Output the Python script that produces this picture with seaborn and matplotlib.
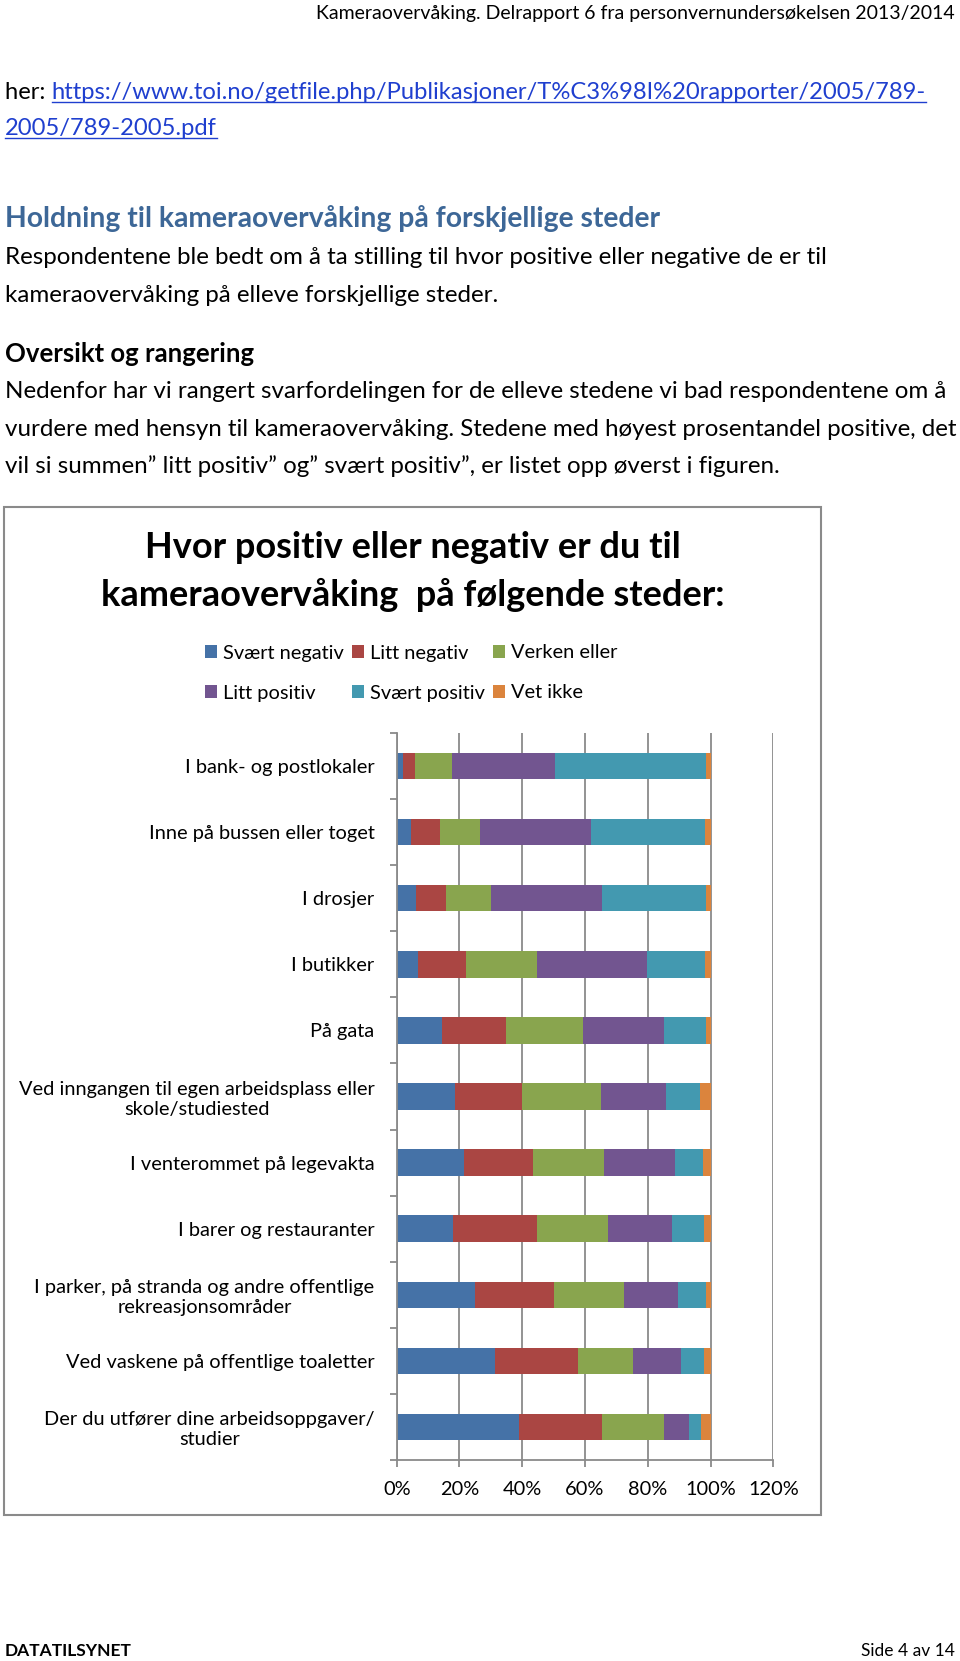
import numpy as np
import pandas as pd
import seaborn as sns
import matplotlib.pyplot as plt
from matplotlib.patches import Patch, Rectangle
from matplotlib.lines import Line2D

# data (percent of respondents)
places = ['I bank- og postlokaler', 'Inne på bussen eller toget', 'I drosjer', 'I butikker',
          'På gata', 'Ved inngangen til egen arbeidsplass eller\nskole/studiested',
          'I venterommet på legevakta', 'I barer og restauranter',
          'I parker, på stranda og andre offentlige\nrekreasjonsområder',
          'Ved vaskene på offentlige toaletter', 'Der du utfører dine arbeidsoppgaver/\nstudier']
svaert_negativ = [2.1, 4.6, 6.1, 6.9, 14.3, 18.6, 21.4, 18.0, 24.8, 31.3, 39.0]
litt_negativ = [3.7, 9.2, 9.6, 15.2, 20.4, 21.4, 21.9, 26.8, 25.3, 26.4, 26.4]
verken_eller = [11.7, 12.7, 14.2, 22.5, 24.5, 25.1, 22.7, 22.4, 22.2, 17.7, 19.6]
litt_positiv = [32.9, 35.4, 35.5, 35.2, 25.9, 20.7, 22.6, 20.5, 17.4, 15.2, 8.1]
svaert_positiv = [48.1, 36.3, 33.1, 18.4, 13.3, 10.8, 9.0, 10.2, 8.7, 7.4, 3.8]
vet_ikke = [1.5, 1.8, 1.5, 1.8, 1.6, 3.4, 2.4, 2.1, 1.6, 2.0, 3.1]

answers = ['Svært negativ', 'Litt negativ', 'Verken eller', 'Litt positiv', 'Svært positiv', 'Vet ikke']
colors = ['#4572A7', '#AA4643', '#89A54E', '#725590', '#4399B0', '#DB843D']
x_ticks = [0, 0.2, 0.4, 0.6, 0.8, 1.0, 1.2]
x_labels = ['0%', '20%', '40%', '60%', '80%', '100%', '120%']

df = pd.DataFrame({'sted': places, 'Svært negativ': svaert_negativ, 'Litt negativ': litt_negativ,
                   'Verken eller': verken_eller, 'Litt positiv': litt_positiv,
                   'Svært positiv': svaert_positiv, 'Vet ikke': vet_ikke})
cum = df[answers].div(df[answers].sum(axis=1), axis=0).cumsum(axis=1)
cum['sted'] = df['sted']

W, H = 960, 1661
plt.rcParams['font.family'] = ['Lato', 'DejaVu Sans']
fig = plt.figure(figsize=(W / 100, H / 100), dpi=100)


def fx(x):
  return x / W


def fy(y):
  return 1 - y / H


grey = '#8a8a8a'
chart_fs = 14.4

# chart frame
fig.patches.append(Rectangle((fx(4), fy(1515)), fx(817), (1515 - 507) / H, transform=fig.transFigure,
                             facecolor='none', edgecolor=grey, lw=1.5))

ax = fig.add_axes([fx(396.7), fy(1460), fx(773.4 - 396.7), (1460 - 733) / H])

# stacked bars: draw cumulative totals from the longest down
for col, c in reversed(list(zip(answers, colors))):
  sns.barplot(data=cum, x=col, y='sted', color=c, saturation=1, width=0.4, linewidth=0, orient='h', ax=ax)

ax.set_xlim(0, 1.2)
ax.set_ylim(len(places) - 0.5, -0.5)
ax.set_xticks(x_ticks)
ax.set_xticklabels(x_labels, fontsize=chart_fs)
ax.set_xlabel('')
ax.set_ylabel('')
ax.set_yticks(np.arange(-0.5, len(places), 1), minor=True)
ax.tick_params(axis='y', which='major', length=0, pad=16, labelsize=chart_fs)
ax.tick_params(axis='y', which='minor', length=5, color=grey, width=1.3)
ax.tick_params(axis='x', length=5, color=grey, width=1.3, pad=10)
for lbl in ax.get_yticklabels():
  lbl.set_multialignment('center')
ax.set_axisbelow(True)
ax.xaxis.grid(True, color=grey, lw=1.3)
ax.yaxis.grid(False)
for s in ['top', 'right']:
  ax.spines[s].set_visible(False)
for s in ['left', 'bottom']:
  ax.spines[s].set_color(grey)
  ax.spines[s].set_linewidth(1.3)

# title and legend
fig.text(fx(413), fy(548), 'Hvor positiv eller negativ er du til', ha='center', va='center',
         fontsize=26, fontweight='bold')
fig.text(fx(413), fy(595), 'kameraovervåking  på følgende steder:', ha='center', va='center',
         fontsize=26, fontweight='bold')
handles = [Patch(facecolor=c, label=a) for a, c in zip(answers, colors)]
order = [0, 3, 1, 4, 2, 5]
fig.legend([handles[i] for i in order], [answers[i] for i in order], loc='center',
           bbox_to_anchor=(fx(411), fy(673)), ncol=3, frameon=False, fontsize=chart_fs,
           handlelength=0.6, handleheight=0.6, handletextpad=0.3, columnspacing=0.4, labelspacing=1.15)

# surrounding page text
body = 17.4
fig.text(fx(955), fy(14), 'Kameraovervåking. Delrapport 6 fra personvernundersøkelsen 2013/2014',
         ha='right', va='center', fontsize=14)

r = fig.canvas.get_renderer()
link = '#1F3FCF'
t_her = fig.text(fx(5), fy(99), 'her: ', va='baseline', fontsize=17.1)
x_end = t_her.get_window_extent(renderer=r).x1 / W
t_url1 = fig.text(x_end, fy(99), 'https://www.toi.no/getfile.php/Publikasjoner/T%C3%98I%20rapporter/2005/789-',
                  va='baseline', fontsize=17.1, color=link)
t_url2 = fig.text(fx(5), fy(135), '2005/789-2005.pdf', va='baseline', fontsize=17.1, color=link)
for t, yb in [(t_url1, 99), (t_url2, 135)]:
  bb = t.get_window_extent(renderer=r)
  fig.lines.append(Line2D([bb.x0 / W, bb.x1 / W], [fy(yb + 3)] * 2, transform=fig.transFigure,
                          color=link, lw=1))

fig.text(fx(5), fy(219), 'Holdning til kameraovervåking på forskjellige steder', va='center',
         fontsize=20.3, fontweight='bold', color='#3D6797')
fig.text(fx(5), fy(257), 'Respondentene ble bedt om å ta stilling til hvor positive eller negative de er til',
         va='center', fontsize=body)
fig.text(fx(5), fy(295), 'kameraovervåking på elleve forskjellige steder.', va='center', fontsize=body)
fig.text(fx(5), fy(354), 'Oversikt og rangering', va='center', fontsize=18.5, fontweight='bold')
fig.text(fx(5), fy(392), 'Nedenfor har vi rangert svarfordelingen for de elleve stedene vi bad respondentene om å',
         va='center', fontsize=body)
fig.text(fx(5), fy(429), 'vurdere med hensyn til kameraovervåking. Stedene med høyest prosentandel positive, det',
         va='center', fontsize=body)
fig.text(fx(5), fy(466), 'vil si summen” litt positiv” og” svært positiv”, er listet opp øverst i figuren.',
         va='center', fontsize=body)

fig.text(fx(5), fy(1651), 'DATATILSYNET', va='center', fontsize=12.5, fontweight='bold')
fig.text(fx(955), fy(1651), 'Side 4 av 14', va='center', ha='right', fontsize=12.5)

fig.savefig('out.png', dpi=100, facecolor='white')
